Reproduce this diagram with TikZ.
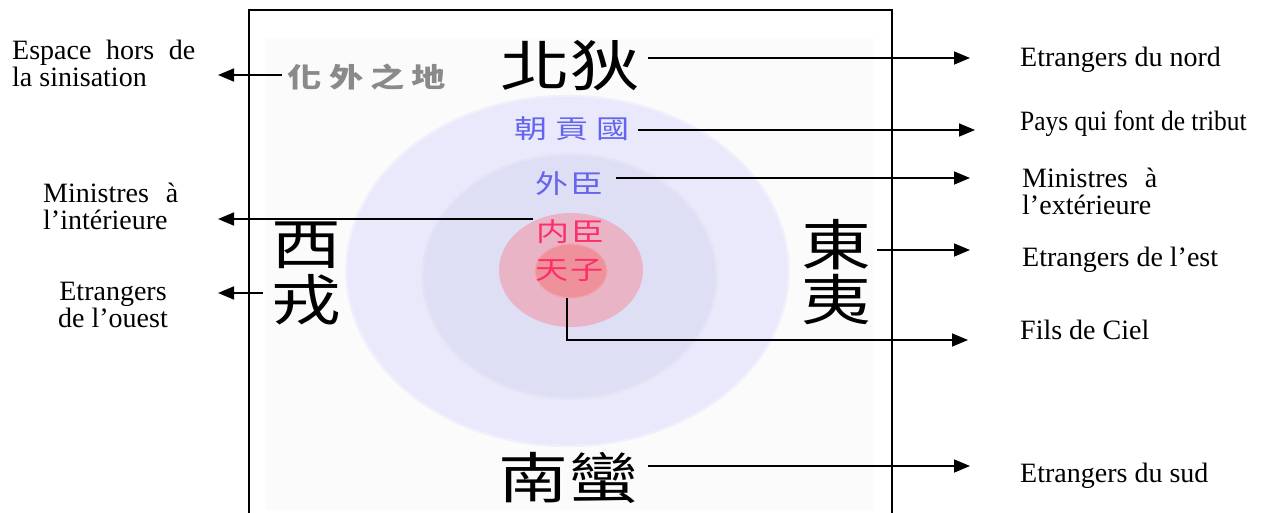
\documentclass[tikz,border=0pt]{standalone}
\usepackage{fontspec}
\setmainfont{Liberation Serif}
\newfontfamily\cjkw[FakeStretch=1.27]{Noto Sans CJK TC}
\usetikzlibrary{arrows.meta}
\definecolor{bgc}{HTML}{FBFBFB}
\definecolor{ring1}{HTML}{E9E9FB}
\definecolor{ring1e}{HTML}{F0F0FC}
\definecolor{ring2}{HTML}{DEDEF4}
\definecolor{ring2e}{HTML}{E4E4F7}
\definecolor{ring3}{HTML}{EAB4C7}
\definecolor{ring4}{HTML}{EE919B}
\definecolor{ring4e}{HTML}{F0A6AE}
\definecolor{graytxt}{HTML}{8A8A8A}
\definecolor{bluetxt}{HTML}{6464EE}
\definecolor{redtxt}{HTML}{FF2D6A}
\tikzset{
 lbl/.style={font=\fontsize{28}{27}\selectfont, inner sep=0pt, align=left},
 big/.style={font=\cjkw\fontsize{55}{55}\selectfont, inner sep=0pt},
 mid/.style={font=\cjkw\fontsize{26}{26}\selectfont, inner sep=0pt},
 arr/.style={line width=1.6pt, -{Triangle[length=16pt,width=13pt]}},
 frame/.style={line width=1.8pt},
}
\begin{document}
\begin{tikzpicture}[x=1pt,y=-1pt]
\useasboundingbox (0,0) rectangle (1261,513);
% background
\fill[bgc] (266,38) rectangle (874,510);
% rings
\fill[ring1] (567.5,271) ellipse [x radius=222, y radius=176];
\draw[ring1e, line width=2pt] (567.5,271) ellipse [x radius=221, y radius=175];
\fill[ring2] (569.5,276.5) ellipse [x radius=148, y radius=123];
\draw[ring2e, line width=2pt] (569.5,276.5) ellipse [x radius=147, y radius=122];
\fill[ring3] (571,270) ellipse [x radius=72, y radius=57];
\fill[ring4] (571,271) ellipse [x radius=36, y radius=27];
\draw[ring4e, line width=1.2pt] (571,271) ellipse [x radius=36, y radius=27];
% frame
\draw[frame] (249,513) -- (249,10) -- (892,10) -- (892,513);
% CJK texts
\node[mid, font=\cjkw\bfseries\fontsize{27}{27}\selectfont, text=graytxt] (huawai) at (367,77) {化\hspace{7pt}外\hspace{7pt}之\hspace{7pt}地};
\node[big] (bei) at (570,66) {北狄};
\node[big] (xi) at (306,245) {西};
\node[big] (rong) at (306,300) {戎};
\node[big] (dong) at (836,245) {東};
\node[big] (yi) at (836,300) {夷};
\node[big] (nan) at (568,478) {南蠻};
\node[mid, text=bluetxt] (chao) at (572,129) {朝\hspace{8pt}貢\hspace{8pt}國};
\node[mid, text=bluetxt] (waichen) at (570,184) {外\hspace{2pt}臣};
\node[mid, text=redtxt] (neichen) at (571,232) {内\hspace{2pt}臣};
\node[mid, text=redtxt] (tianzi) at (570,270) {天\hspace{2pt}子};
% right labels
\node[lbl, anchor=west] (nord) at (1020,60) {Etrangers du nord};
\node[lbl, anchor=west] (tribut) at (1020,124) {\scalebox{0.91}[1]{Pays qui font de tribut}};
\node[lbl, anchor=west] (mext) at (1022,191) {\makebox[135pt][s]{Ministres à}\\l’extérieure};
\node[lbl, anchor=west] (est) at (1022,260) {Etrangers de l’est};
\node[lbl, anchor=west] (fils) at (1020,330) {Fils de Ciel};
\node[lbl, anchor=west] (sud) at (1020,476) {Etrangers du sud};
% left labels
\node[lbl, anchor=west] (espace) at (12,63) {\makebox[183pt][s]{Espace hors de}\\la sinisation};
\node[lbl, anchor=west] (mint) at (43,206) {\makebox[135pt][s]{Ministres à}\\l’intérieure};
\node[lbl, align=center] (ouest) at (113,305) {Etrangers\\de l’ouest};
% connector end points
\coordinate (R) at (970,0);
\coordinate (L) at (218,0);
\coordinate (ncs) at (533,219);
\coordinate (tzb) at (567,298);
\coordinate (fe) at (968,340);
% connectors
\draw[arr] ([xshift=8pt,yshift=8pt]bei.east) -- ([yshift=8pt]bei.east -| R);
\draw[arr] ([xshift=8pt,yshift=-1pt]chao.east) -- ([yshift=-1pt,xshift=5pt]chao.east -| R);
\draw[arr] ([xshift=12pt,yshift=6pt]waichen.east) -- ([yshift=6pt]waichen.east -| R);
\draw[arr] ([xshift=6pt,yshift=-5pt]dong.east) -- ([yshift=-5pt]dong.east -| R);
\draw[arr] (tzb) |- (fe);
\draw[arr] ([xshift=10pt,yshift=12pt]nan.east) -- ([yshift=12pt]nan.east -| R);
\draw[arr] (ncs) -- (ncs -| L);
\draw[arr] ([xshift=-6pt,yshift=2pt]huawai.west) -- ([yshift=2pt]huawai.west -| L);
\draw[arr] ([xshift=-8pt,yshift=7pt]rong.west) -- ([yshift=7pt]rong.west -| L);
\end{tikzpicture}
\end{document}
